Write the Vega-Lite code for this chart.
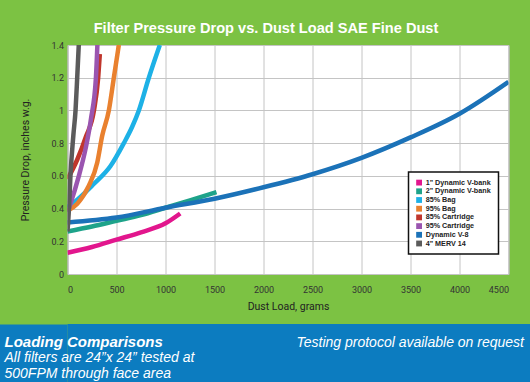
{
  "$schema": "https://vega.github.io/schema/vega-lite/v6.json",
  "background": "#7cc243",
  "padding": {"top": 20, "left": -42.5, "right": 0, "bottom": 0},
  "spacing": 12,
  "config": {"view": {"stroke": null}},
  "vconcat": [
    {
      "width": 441,
      "height": 229,
      "title": {"text": "Filter Pressure Drop vs. Dust Load SAE Fine Dust", "color": "white", "font": "Liberation Sans", "fontSize": 14.6, "fontWeight": "bold", "anchor": "middle", "frame": "group", "dx": -22, "offset": 5},
      "view": {"fill": "white", "stroke": "#a8a8a8", "strokeWidth": 1},
      "data": {"values": [
        {"filter": "1\" Dynamic V-bank", "load": 0, "dp": 0.13},
        {"filter": "1\" Dynamic V-bank", "load": 250, "dp": 0.165},
        {"filter": "1\" Dynamic V-bank", "load": 500, "dp": 0.21},
        {"filter": "1\" Dynamic V-bank", "load": 750, "dp": 0.255},
        {"filter": "1\" Dynamic V-bank", "load": 1000, "dp": 0.31},
        {"filter": "1\" Dynamic V-bank", "load": 1150, "dp": 0.37},
        {"filter": "2\" Dynamic V-bank", "load": 0, "dp": 0.26},
        {"filter": "2\" Dynamic V-bank", "load": 250, "dp": 0.29},
        {"filter": "2\" Dynamic V-bank", "load": 500, "dp": 0.325},
        {"filter": "2\" Dynamic V-bank", "load": 750, "dp": 0.36},
        {"filter": "2\" Dynamic V-bank", "load": 1000, "dp": 0.405},
        {"filter": "2\" Dynamic V-bank", "load": 1250, "dp": 0.45},
        {"filter": "2\" Dynamic V-bank", "load": 1520, "dp": 0.5},
        {"filter": "85% Bag", "load": 0, "dp": 0.41},
        {"filter": "85% Bag", "load": 50, "dp": 0.43},
        {"filter": "85% Bag", "load": 268, "dp": 0.55},
        {"filter": "85% Bag", "load": 439, "dp": 0.66},
        {"filter": "85% Bag", "load": 575, "dp": 0.8},
        {"filter": "85% Bag", "load": 660, "dp": 0.9},
        {"filter": "85% Bag", "load": 728, "dp": 1.0},
        {"filter": "85% Bag", "load": 830, "dp": 1.2},
        {"filter": "85% Bag", "load": 942, "dp": 1.4},
        {"filter": "95% Bag", "load": 0, "dp": 0.387},
        {"filter": "95% Bag", "load": 100, "dp": 0.43},
        {"filter": "95% Bag", "load": 218, "dp": 0.54},
        {"filter": "95% Bag", "load": 303, "dp": 0.68},
        {"filter": "95% Bag", "load": 354, "dp": 0.845},
        {"filter": "95% Bag", "load": 422, "dp": 1.0},
        {"filter": "95% Bag", "load": 473, "dp": 1.2},
        {"filter": "95% Bag", "load": 524, "dp": 1.4},
        {"filter": "85% Cartridge", "load": 0, "dp": 0.58},
        {"filter": "85% Cartridge", "load": 100, "dp": 0.7},
        {"filter": "85% Cartridge", "load": 185, "dp": 0.835},
        {"filter": "85% Cartridge", "load": 270, "dp": 1.0},
        {"filter": "85% Cartridge", "load": 313, "dp": 1.2},
        {"filter": "85% Cartridge", "load": 330, "dp": 1.345},
        {"filter": "95% Cartridge", "load": 0, "dp": 0.38},
        {"filter": "95% Cartridge", "load": 30, "dp": 0.43},
        {"filter": "95% Cartridge", "load": 116, "dp": 0.6},
        {"filter": "95% Cartridge", "load": 184, "dp": 0.765},
        {"filter": "95% Cartridge", "load": 240, "dp": 0.95},
        {"filter": "95% Cartridge", "load": 290, "dp": 1.2},
        {"filter": "95% Cartridge", "load": 305, "dp": 1.4},
        {"filter": "Dynamic V-8", "load": 0, "dp": 0.315},
        {"filter": "Dynamic V-8", "load": 500, "dp": 0.345},
        {"filter": "Dynamic V-8", "load": 1000, "dp": 0.405},
        {"filter": "Dynamic V-8", "load": 1500, "dp": 0.46},
        {"filter": "Dynamic V-8", "load": 2000, "dp": 0.53},
        {"filter": "Dynamic V-8", "load": 2500, "dp": 0.61},
        {"filter": "Dynamic V-8", "load": 3000, "dp": 0.71},
        {"filter": "Dynamic V-8", "load": 3500, "dp": 0.835},
        {"filter": "Dynamic V-8", "load": 4000, "dp": 0.98},
        {"filter": "Dynamic V-8", "load": 4500, "dp": 1.175},
        {"filter": "4\" MERV 14", "load": 0, "dp": 0.26},
        {"filter": "4\" MERV 14", "load": 15, "dp": 0.4},
        {"filter": "4\" MERV 14", "load": 30, "dp": 0.6},
        {"filter": "4\" MERV 14", "load": 60, "dp": 0.85},
        {"filter": "4\" MERV 14", "load": 82, "dp": 1.0},
        {"filter": "4\" MERV 14", "load": 99, "dp": 1.2},
        {"filter": "4\" MERV 14", "load": 115, "dp": 1.4}
      ]},
      "mark": {"type": "line", "strokeWidth": 4.5, "interpolate": "monotone", "clip": true},
      "encoding": {
        "x": {"field": "load", "type": "quantitative", "scale": {"domain": [0, 4500], "nice": false},
          "axis": {"values": [0, 500, 1000, 1500, 2000, 2500, 3000, 3500, 4000, 4500], "format": "d", "title": "Dust Load, grams", "ticks": false, "domain": false, "labelFont": "Roboto", "labelFontSize": 9, "labelColor": "#333333", "labelPadding": 11, "gridColor": "#c4c4c4", "titleFont": "Roboto", "titleFontSize": 10.5, "titleFontWeight": "normal", "titleColor": "#222222", "titlePadding": 7}},
        "y": {"field": "dp", "type": "quantitative", "scale": {"domain": [0, 1.4], "nice": false},
          "axis": {"values": [0, 0.2, 0.4, 0.6, 0.8, 1, 1.2, 1.4], "format": ".1~f", "title": "Pressure Drop, inches w.g.", "ticks": true, "tickSize": 67, "tickOpacity": 0, "domain": false, "labelFont": "Roboto", "labelFontSize": 9, "labelColor": "#333333", "labelPadding": -63, "gridColor": "#c4c4c4", "titleX": -37, "titleFont": "Roboto", "titleFontSize": 10.5, "titleFontWeight": "normal", "titleColor": "#222222"}},
        "color": {"field": "filter", "type": "nominal",
          "scale": {"domain": ["1\" Dynamic V-bank", "2\" Dynamic V-bank", "85% Bag", "95% Bag", "85% Cartridge", "95% Cartridge", "Dynamic V-8", "4\" MERV 14"],
                    "range": ["#e2168d", "#1ea38a", "#1db1e6", "#e9812f", "#c0362c", "#9a55b0", "#1b72b8", "#5b5b5b"]},
          "legend": {"orient": "none", "legendX": 341, "legendY": 127, "title": null, "symbolType": "square", "symbolSize": 34, "symbolStrokeWidth": 0, "labelFont": "Liberation Sans", "labelFontSize": 7.2, "labelFontWeight": "bold", "labelColor": "#222222", "labelOffset": 3, "rowPadding": 0.7, "padding": 7, "fillColor": "white", "strokeColor": "#111111", "cornerRadius": 0,
            "encode": {"legend": {"update": {"strokeWidth": {"value": 1.5}}}, "symbols": {"update": {"fill": {"scale": "color", "field": "value"}, "opacity": {"value": 1}}}}}}
      }
    },
    {
      "width": 463,
      "height": 59,
      "view": {"fill": "#0c7cc0", "stroke": null},
      "title": {"text": "Loading Comparisons", "subtitle": ["All filters are 24\u201dx 24\u201d tested at", "500FPM through face area"], "anchor": "start", "frame": "group", "orient": "top", "offset": -57, "dx": -63, "color": "white", "font": "Liberation Sans", "fontSize": 15, "fontWeight": "bold", "fontStyle": "italic", "subtitleColor": "white", "subtitleFont": "Liberation Sans", "subtitleFontSize": 14, "subtitleFontStyle": "italic", "subtitlePadding": 1},
      "data": {"values": [{"v": 0, "w": 0}]},
      "mark": {"type": "point", "opacity": 0},
      "encoding": {
        "x": {"field": "v", "type": "quantitative", "scale": {"domain": [0, 1]},
          "axis": {"orient": "top", "domain": false, "ticks": false, "labels": false, "grid": false, "title": "Testing protocol available on request", "titleX": 456, "titleY": 22, "titleAlign": "right", "titleBaseline": "alphabetic", "titleFont": "Liberation Sans", "titleFontSize": 14, "titleFontStyle": "italic", "titleFontWeight": "normal", "titleColor": "white"}},
        "y": {"field": "w", "type": "quantitative", "scale": {"domain": [0, 1]},
          "axis": {"orient": "left", "values": [0.5], "domain": false, "labels": false, "grid": false, "title": null, "ticks": true, "tickSize": 80, "tickWidth": 59, "tickColor": "#0c7cc0", "tickCap": "butt", "translate": 0}}
      }
    }
  ]
}
